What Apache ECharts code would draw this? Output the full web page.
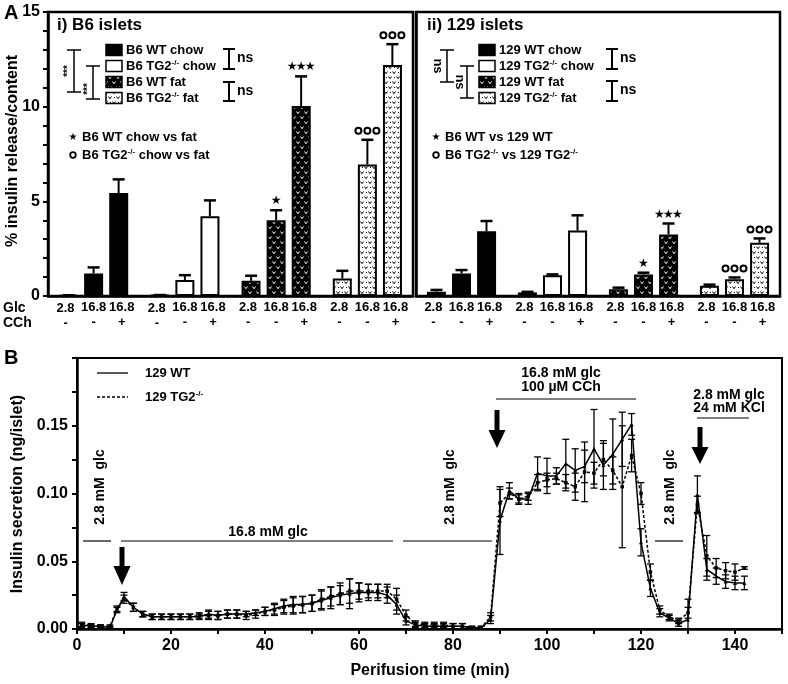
<!DOCTYPE html>
<html><head><meta charset="utf-8">
<script src="https://cdn.jsdelivr.net/npm/echarts@6/dist/echarts.min.js"></script>
<style>html,body{margin:0;padding:0;background:#fff}#c{width:788px;height:684px}</style>
</head><body><div id="c"></div>
<script>
// ---------- Panel A data ----------
const conditions = ['2.8 glc', '16.8 glc', '16.8 glc + CCh'];
const glcLabels = ['2.8', '16.8', '16.8'];
const cchLabels = ['-', '-', '+'];
const b6Groups = ['B6 WT chow', 'B6 TG2-/- chow', 'B6 WT fat', 'B6 TG2-/- fat'];
const m129Groups = ['129 WT chow', '129 TG2-/- chow', '129 WT fat', '129 TG2-/- fat'];
const b6Mean = [[0.02, 1.19, 5.44], [0.04, 0.84, 4.21], [0.80, 4.00, 10.03], [0.93, 6.95, 12.20]];
const b6Err  = [[0.02, 0.32, 0.72], [0.01, 0.26, 0.84], [0.27, 0.53, 1.57], [0.40, 1.30, 1.10]];
const b6Sig  = [['', '', ''], ['', '', ''], ['', '★', '★★★'], ['', '○○○', '○○○']];
const m129Mean = [[0.23, 1.19, 3.42], [0.19, 1.09, 3.46], [0.35, 1.14, 3.25], [0.54, 0.89, 2.81]];
const m129Err  = [[0.09, 0.18, 0.54], [0.03, 0.05, 0.80], [0.09, 0.09, 0.58], [0.06, 0.09, 0.23]];
const m129Sig  = [['', '', ''], ['', '', ''], ['', '★', '★★★'], ['', '○○○', '○○○']];
const yTickLabelsA = [0, 5, 10, 15];

// ---------- Panel B data ----------
const timeMin = [1,3,5,7,8.5,10,12,14,16,18,20,22,24,26,28,30,32,34,36,38,40,42,44,46,48,50,52,54,56,58,60,62,64,66,68,70,72,74,76,78,80,82,84,86,88,90,92,94,96,98,100,102,104,106,108,110,112,114,116,118,120,122,124,126,128,130,132,134,136,138,140,142];
const wtMean = [0.003,0.002,0.002,0.001,0.014,0.024,0.016,0.011,0.009,0.009,0.009,0.009,0.009,0.009,0.011,0.010,0.011,0.011,0.011,0.012,0.013,0.015,0.017,0.018,0.018,0.019,0.021,0.023,0.025,0.026,0.027,0.027,0.027,0.025,0.018,0.006,0.003,0.002,0.002,0.002,0.002,0.002,0.001,0.001,0.007,0.080,0.102,0.096,0.096,0.115,0.113,0.113,0.122,0.117,0.120,0.133,0.121,0.129,0.140,0.151,0.064,0.030,0.012,0.008,0.004,0.007,0.099,0.044,0.039,0.035,0.034,0.034];
const wtErr  = [0.002,0.001,0.001,0.001,0.002,0.003,0.003,0.002,0.002,0.002,0.002,0.002,0.002,0.002,0.003,0.003,0.003,0.003,0.002,0.002,0.003,0.004,0.005,0.006,0.006,0.006,0.007,0.008,0.007,0.011,0.007,0.006,0.006,0.006,0.007,0.003,0.002,0.002,0.002,0.002,0.002,0.002,0.001,0.001,0.003,0.025,0.006,0.004,0.004,0.012,0.013,0.006,0.018,0.016,0.012,0.029,0.018,0.026,0.020,0.008,0.010,0.006,0.003,0.002,0.002,0.015,0.014,0.008,0.006,0.005,0.005,0.005];
const tgMean = [0.003,0.003,0.002,0.002,0.015,0.022,0.016,0.011,0.009,0.009,0.009,0.009,0.009,0.010,0.010,0.010,0.011,0.011,0.010,0.011,0.013,0.014,0.016,0.017,0.018,0.019,0.022,0.024,0.026,0.028,0.028,0.028,0.028,0.028,0.022,0.010,0.004,0.003,0.003,0.003,0.002,0.002,0.001,0.001,0.009,0.093,0.100,0.096,0.098,0.108,0.110,0.111,0.108,0.105,0.116,0.115,0.125,0.117,0.105,0.128,0.100,0.042,0.014,0.009,0.006,0.012,0.092,0.054,0.045,0.043,0.042,0.045];
const tgErr  = [0.001,0.001,0.001,0.001,0.002,0.003,0.003,0.002,0.002,0.002,0.002,0.002,0.002,0.002,0.003,0.003,0.003,0.003,0.003,0.003,0.003,0.004,0.005,0.006,0.006,0.006,0.007,0.007,0.008,0.009,0.006,0.005,0.005,0.005,0.008,0.004,0.002,0.002,0.002,0.002,0.002,0.002,0.001,0.001,0.003,0.010,0.004,0.003,0.003,0.006,0.005,0.004,0.006,0.010,0.022,0.008,0.012,0.010,0.045,0.012,0.008,0.006,0.003,0.002,0.002,0.004,0.006,0.015,0.007,0.006,0.006,0.001];

// ---------- helpers ----------
const FONT = '"Liberation Sans", Arial, sans-serif';
const BAR_W = 19, BAR_STEP = 25;
const LABEL_SHIFT = [-3, 0, 3];

function makePattern(bg, fg, dots) {
  const c = document.createElement('canvas'); c.width = 8; c.height = 10;
  const g = c.getContext('2d');
  g.fillStyle = bg; g.fillRect(0, 0, 8, 10);
  g.strokeStyle = fg; g.lineWidth = 1;
  const v = (x, y) => { g.beginPath(); g.moveTo(x - 1.5, y - 1.5); g.lineTo(x, y + 0.7); g.lineTo(x + 1.5, y - 1.5); g.stroke(); };
  v(2, 3); v(6, 8);
  if (dots) { g.fillStyle = fg; g.fillRect(6, 2, 1, 1); g.fillRect(2, 7, 1, 1); }
  return { image: c, repeat: 'repeat' };
}
const fills = ['#000', '#fff', makePattern('#000', '#fff', false), makePattern('#fff', '#000', true)];

function richText(s, size) {
  const parts = s.split('-/-');
  if (parts.length === 1) return { text: s };
  return {
    text: parts.map(p => '{n|' + p + '}').join('{s|-/-}'),
    rich: {
      n: { fontSize: size, fontWeight: 'bold', fontFamily: FONT, fill: '#000', color: '#000' },
      s: { fontSize: Math.round(size * 0.62), fontWeight: 'bold', fontFamily: FONT, fill: '#000', color: '#000', padding: [0, 0, Math.round(size * 0.55), 0] }
    }
  };
}
function txt(x, y, s, size, o) {
  o = o || {};
  const r = richText(s, size);
  const st = { text: r.text, fill: '#000', font: 'bold ' + size + 'px ' + (o.family || FONT),
    align: o.align || 'left', textAlign: o.align || 'left', verticalAlign: 'middle', textVerticalAlign: 'middle' };
  if (r.rich) st.rich = r.rich;
  return { type: 'text', x: x, y: y, rotation: o.rot || 0, silent: true, z: 10, style: st };
}
function ln(x1, y1, x2, y2, w, dash) {
  return { type: 'line', silent: true, z: 10, shape: { x1, y1, x2, y2 }, style: { stroke: '#000', lineWidth: w || 1.5, lineDash: dash || null } };
}
function bracket(x, y1, y2, hw, w) {
  return [ln(x, y1, x, y2, w), ln(x - hw, y1, x + hw, y1, w), ln(x - hw, y2, x + hw, y2, w)];
}
function arrow(cx, yTop, yHead, yTip) {
  return [
    { type: 'rect', silent: true, z: 10, shape: { x: cx - 2.5, y: yTop, width: 5, height: yHead - yTop + 1 }, style: { fill: '#000' } },
    { type: 'polygon', silent: true, z: 10, shape: { points: [[cx - 8.5, yHead], [cx + 8.5, yHead], [cx, yTip]] }, style: { fill: '#000' } }
  ];
}

// ---------- series builders ----------
function barSeries(means, idx) {
  return conditions.map((c, j) => ({
    type: 'bar', name: c, xAxisIndex: idx, yAxisIndex: idx, barWidth: BAR_W, barGap: '32%', silent: true, z: 2,
    itemStyle: { borderColor: '#000', borderWidth: 2 },
    data: means.map((row, g) => ({ value: row[j], itemStyle: { color: fills[g] } })),
    label: { show: true, position: 'bottom', distance: 4, offset: [LABEL_SHIFT[j], 0], formatter: glcLabels[j] + '\n' + cchLabels[j],
      fontFamily: FONT, fontWeight: 'bold', fontSize: 13, lineHeight: 15, color: '#000' }
  }));
}
function errSeriesA(means, errs, idx) {
  const data = [];
  means.forEach((row, g) => row.forEach((m, j) => data.push([g, m, errs[g][j], j])));
  return {
    type: 'custom', xAxisIndex: idx, yAxisIndex: idx, z: 3, silent: true, data, encode: { x: 0, y: 1 },
    renderItem: (params, api) => {
      const g = api.value(0), m = api.value(1), e = api.value(2), j = api.value(3);
      const p0 = api.coord([g, m]), p1 = api.coord([g, m + e]);
      const x = p0[0] + (j - 1) * BAR_STEP;
      return { type: 'group', children: [
        { type: 'line', shape: { x1: x, y1: p0[1], x2: x, y2: p1[1] }, style: { stroke: '#000', lineWidth: 2 } },
        { type: 'line', shape: { x1: x - 6, y1: p1[1], x2: x + 6, y2: p1[1] }, style: { stroke: '#000', lineWidth: 2.5 } }
      ] };
    }
  };
}
function sigSeries(means, errs, sigs, idx) {
  const data = [];
  means.forEach((row, g) => row.forEach((m, j) => data.push([g, m + errs[g][j], j])));
  return {
    type: 'custom', xAxisIndex: idx, yAxisIndex: idx, z: 4, silent: true, data, encode: { x: 0, y: 1 },
    renderItem: (params, api) => {
      const g = api.value(0), top = api.value(1), j = api.value(2);
      const s = sigs[g][j];
      if (!s) return null;
      const p = api.coord([g, top]);
      const cx = p[0] + (j - 1) * BAR_STEP, cy = p[1] - 9;
      const n = s.length, ch = [];
      for (let k = 0; k < n; k++) {
        const x = cx + (k - (n - 1) / 2) * 9;
        if (s[k] === '★') ch.push({ type: 'text', style: { text: '★', x: x, y: cy, align: 'center', verticalAlign: 'middle', font: '12px "DejaVu Sans"', fill: '#000' } });
        else ch.push({ type: 'circle', shape: { cx: x, cy: cy, r: 3 }, style: { fill: '#fff', stroke: '#000', lineWidth: 2 } });
      }
      return { type: 'group', children: ch };
    }
  };
}
function errSeriesB(means, errs) {
  const data = timeMin.map((t, i) => [t, means[i], errs[i]]);
  return {
    type: 'custom', xAxisIndex: 2, yAxisIndex: 2, z: 3, silent: true, data, encode: { x: 0, y: 1 },
    renderItem: (params, api) => {
      const t = api.value(0), m = api.value(1), e = api.value(2);
      const lo = api.coord([t, Math.max(0, m - e)]), hi = api.coord([t, m + e]);
      return { type: 'group', children: [
        { type: 'line', shape: { x1: lo[0], y1: lo[1], x2: hi[0], y2: hi[1] }, style: { stroke: '#000', lineWidth: 1.3 } },
        { type: 'line', shape: { x1: hi[0] - 3.5, y1: hi[1], x2: hi[0] + 3.5, y2: hi[1] }, style: { stroke: '#000', lineWidth: 1.3 } },
        { type: 'line', shape: { x1: lo[0] - 3.5, y1: lo[1], x2: lo[0] + 3.5, y2: lo[1] }, style: { stroke: '#000', lineWidth: 1.3 } }
      ] };
    }
  };
}

// ---------- axes ----------
const catAxis = (idx, names) => ({
  type: 'category', gridIndex: idx, data: names,
  axisLine: { show: true, lineStyle: { color: '#000', width: 2.5 } }, axisTick: { show: false }, axisLabel: { show: false }, splitLine: { show: false }
});
const yAxisA = (idx, labels) => ({
  type: 'value', gridIndex: idx, min: 0, max: 15, interval: 1,
  axisLine: { show: true, lineStyle: { color: '#000', width: 2.5 } },
  axisTick: { show: labels, length: 5, lineStyle: { color: '#000', width: 2 } },
  axisLabel: { show: labels, margin: 8, color: '#000', fontFamily: FONT, fontWeight: 'bold', fontSize: 16,
    formatter: v => (yTickLabelsA.indexOf(Math.round(v)) >= 0 && Math.abs(v - Math.round(v)) < 1e-6) ? String(Math.round(v)) : '' },
  splitLine: { show: false }
});

// ---------- graphics ----------
const G = [];
G.push(txt(4, 13, 'A', 20));
G.push(txt(4, 358, 'B', 20));
G.push(txt(13, 151, '% insulin release/content', 16, { align: 'center', rot: Math.PI / 2 }));
G.push(txt(18, 494, 'Insulin secretion (ng/islet)', 16, { align: 'center', rot: Math.PI / 2 }));
G.push(txt(430, 671, 'Perifusion time (min)', 16, { align: 'center' }));
G.push(txt(3, 308, 'Glc', 14));
G.push(txt(3, 323, 'CCh', 14));
G.push(txt(57, 25, 'i) B6 islets', 17));
G.push(txt(427, 25, 'ii) 129 islets', 17));

const rows = [50, 66, 82, 98];
function legendBlock(names, sx) {
  names.forEach((nm, i) => {
    G.push({ type: 'rect', silent: true, z: 10, shape: { x: sx, y: rows[i] - 5.5, width: 16, height: 11 }, style: { fill: fills[i], stroke: '#000', lineWidth: 1.5 } });
    G.push(txt(sx + 20, rows[i], nm, 13));
  });
}
legendBlock(b6Groups, 106);
legendBlock(m129Groups, 479);

// left panel brackets
G.push(...bracket(229, 49, 69, 6, 2));
G.push(txt(237, 58, 'ns', 14));
G.push(...bracket(229, 82, 101, 6, 2));
G.push(txt(237, 91, 'ns', 14));
G.push(...bracket(74, 50, 92, 7, 1.5));
G.push(txt(68, 71, '***', 10, { align: 'center', rot: Math.PI / 2 }));
G.push(...bracket(93, 66, 99, 7, 1.5));
G.push(txt(88, 89, '***', 10, { align: 'center', rot: Math.PI / 2 }));
// right panel brackets
G.push(...bracket(612, 49, 69, 6, 2));
G.push(txt(620, 58, 'ns', 14));
G.push(...bracket(612, 81, 101, 6, 2));
G.push(txt(620, 90, 'ns', 14));
G.push(...bracket(447, 50, 82, 7, 1.5));
G.push(txt(438, 66, 'ns', 13, { align: 'center', rot: -Math.PI / 2 }));
G.push(...bracket(467, 66, 98, 7, 1.5));
G.push(txt(460, 82, 'ns', 13, { align: 'center', rot: -Math.PI / 2 }));

// notes
function note(x, y, sym, s) {
  if (sym === 'star') G.push(txt(x, y, '★', 10, { align: 'center', family: '"DejaVu Sans"' }));
  else G.push({ type: 'circle', silent: true, z: 10, shape: { cx: x, cy: y, r: 2.8 }, style: { fill: '#fff', stroke: '#000', lineWidth: 1.8 } });
  G.push(txt(x + 9, y, s, 13));
}
note(73, 137, 'star', 'B6 WT chow vs fat');
note(73, 155, 'circ', 'B6 TG2-/- chow vs fat');
note(436, 137, 'star', 'B6 WT vs 129 WT');
note(436, 155, 'circ', 'B6 TG2-/- vs 129 TG2-/-');

// Panel B legend
G.push(ln(97, 373, 128, 373, 1.3));
G.push(txt(145, 373, '129 WT', 13));
G.push(ln(97, 397, 128, 397, 1.3, [3, 2]));
G.push(txt(145, 397, '129 TG2-/-', 13));

// Panel B stimulus annotations
G.push(ln(83, 541, 111, 541, 1.2));
G.push(ln(121, 541, 393, 541, 1.2));
G.push(ln(403, 541, 492, 541, 1.2));
G.push(ln(655, 541, 683, 541, 1.2));
G.push(ln(496, 399, 636, 399, 1.2));
G.push(ln(697, 418, 749, 418, 1.2));
G.push(txt(268, 532, '16.8 mM glc', 14, { align: 'center' }));
G.push(txt(100, 487, '2.8 mM  glc', 14, { align: 'center', rot: Math.PI / 2 }));
G.push(txt(450, 487, '2.8 mM  glc', 14, { align: 'center', rot: Math.PI / 2 }));
G.push(txt(670, 487, '2.8 mM  glc', 14, { align: 'center', rot: Math.PI / 2 }));
G.push(txt(561, 373, '16.8 mM glc', 14, { align: 'center' }));
G.push(txt(561, 387, '100 µM CCh', 14, { align: 'center' }));
G.push(txt(729, 395, '2.8 mM glc', 14, { align: 'center' }));
G.push(txt(729, 408, '24 mM KCl', 14, { align: 'center' }));
G.push(...arrow(122, 547, 566, 585));
G.push(...arrow(497, 410, 430, 448));
G.push(...arrow(700, 427, 447, 464));

const option = {
  animation: false,
  backgroundColor: '#fff',
  grid: [
    { left: 48, top: 12, width: 365, height: 284, show: true, borderColor: '#000', borderWidth: 2.5, backgroundColor: 'transparent', outerBoundsMode: 'none', containLabel: false },
    { left: 416, top: 12, width: 364, height: 284, show: true, borderColor: '#000', borderWidth: 2.5, backgroundColor: 'transparent', outerBoundsMode: 'none', containLabel: false },
    { left: 77, top: 358, width: 705, height: 271, show: true, borderColor: '#000', borderWidth: 2, backgroundColor: 'transparent', outerBoundsMode: 'none', containLabel: false }
  ],
  xAxis: [
    catAxis(0, b6Groups),
    catAxis(1, m129Groups),
    { type: 'value', gridIndex: 2, min: 0, max: 150, interval: 10,
      axisLine: { show: true, lineStyle: { color: '#000', width: 2.5 } },
      axisTick: { show: true, length: 5, lineStyle: { color: '#000', width: 2 } },
      axisLabel: { margin: 9, color: '#000', fontFamily: FONT, fontWeight: 'bold', fontSize: 16,
        formatter: v => (Math.round(v) % 20 === 0 && v < 145) ? String(Math.round(v)) : '' },
      splitLine: { show: false } }
  ],
  yAxis: [
    yAxisA(0, true),
    yAxisA(1, false),
    { type: 'value', gridIndex: 2, min: 0, max: 0.2, interval: 0.025,
      axisLine: { show: true, lineStyle: { color: '#000', width: 2.5 } },
      axisTick: { show: true, length: 5, lineStyle: { color: '#000', width: 2 } },
      axisLabel: { margin: 9, color: '#000', fontFamily: FONT, fontWeight: 'bold', fontSize: 16,
        formatter: v => { const k = Math.round(v / 0.025); return (k % 2 === 0 && v < 0.19) ? v.toFixed(2) : ''; } },
      splitLine: { show: false } }
  ],
  series: [
    ...barSeries(b6Mean, 0),
    errSeriesA(b6Mean, b6Err, 0),
    sigSeries(b6Mean, b6Err, b6Sig, 0),
    ...barSeries(m129Mean, 1),
    errSeriesA(m129Mean, m129Err, 1),
    sigSeries(m129Mean, m129Err, m129Sig, 1),
    errSeriesB(wtMean, wtErr),
    errSeriesB(tgMean, tgErr),
    { type: 'line', name: '129 WT', xAxisIndex: 2, yAxisIndex: 2, z: 4, silent: true,
      data: timeMin.map((t, i) => [t, wtMean[i]]),
      lineStyle: { color: '#000', width: 1.5 }, symbol: 'triangle', symbolSize: 4, itemStyle: { color: '#000' } },
    { type: 'line', name: '129 TG2-/-', xAxisIndex: 2, yAxisIndex: 2, z: 4, silent: true,
      data: timeMin.map((t, i) => [t, tgMean[i]]),
      lineStyle: { color: '#000', width: 1.5, type: [3, 2] }, symbol: 'rect', symbolSize: 3.5, itemStyle: { color: '#000' } }
  ],
  graphic: G
};
const chart = echarts.init(document.getElementById('c'), null, { renderer: 'canvas', width: 788, height: 684 });
chart.setOption(option);
</script></body></html>
